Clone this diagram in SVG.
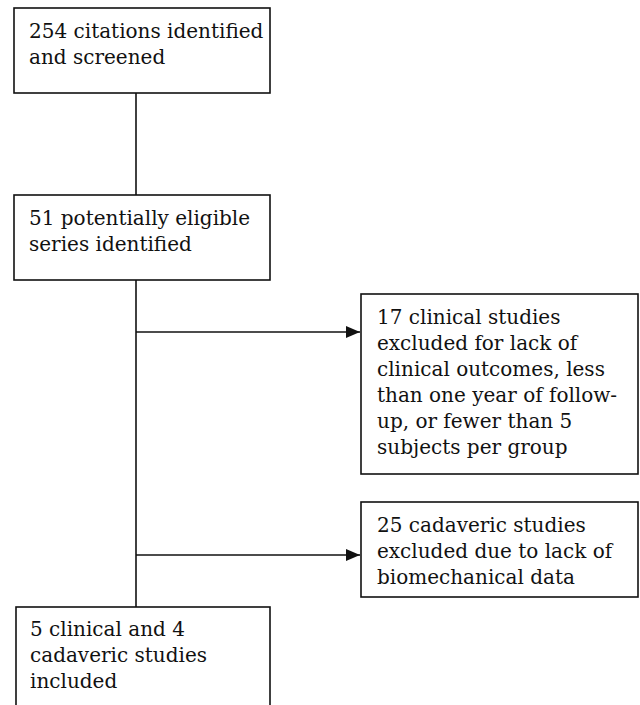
<svg xmlns="http://www.w3.org/2000/svg" width="640" height="705" viewBox="0 0 640 705">
<style>
.box{fill:#fff;stroke:#111;stroke-width:1.6}
.t{font-family:"DejaVu Serif","Liberation Serif",serif;font-size:20px;fill:#111}
.ln{stroke:#111;stroke-width:1.6;fill:none}
</style>
<defs>
<marker id="ah" markerWidth="14" markerHeight="12" refX="14" refY="6" orient="auto" markerUnits="userSpaceOnUse" viewBox="0 0 14 12">
<path d="M0,0 L14,6 L0,12 Z" fill="#111"/>
</marker>
</defs>
<rect width="640" height="705" fill="#fff"/>
<g id="connectors">
<line class="ln" x1="136" y1="93" x2="136" y2="195"/>
<line class="ln" x1="136" y1="280" x2="136" y2="607"/>
<line class="ln" x1="136" y1="332" x2="360" y2="332" marker-end="url(#ah)"/>
<line class="ln" x1="136" y1="555" x2="360" y2="555" marker-end="url(#ah)"/>
</g>
<g id="n1">
<rect class="box" x="14" y="8" width="256" height="85"/>
<text class="t" x="29" y="38">254 citations identified</text>
<text class="t" x="29" y="64">and screened</text>
</g>
<g id="n2">
<rect class="box" x="14" y="195" width="256" height="85"/>
<text class="t" x="29" y="225">51 potentially eligible</text>
<text class="t" x="29" y="251">series identified</text>
</g>
<g id="n3">
<rect class="box" x="361" y="294" width="277" height="180"/>
<text class="t" x="377" y="324">17 clinical studies</text>
<text class="t" x="377" y="350">excluded for lack of</text>
<text class="t" x="377" y="376">clinical outcomes, less</text>
<text class="t" x="377" y="402">than one year of follow-</text>
<text class="t" x="377" y="428">up, or fewer than 5</text>
<text class="t" x="377" y="454">subjects per group</text>
</g>
<g id="n4">
<rect class="box" x="361" y="502" width="277" height="95"/>
<text class="t" x="377" y="532">25 cadaveric studies</text>
<text class="t" x="377" y="558">excluded due to lack of</text>
<text class="t" x="377" y="584">biomechanical data</text>
</g>
<g id="n5">
<rect class="box" x="16" y="607" width="254" height="120"/>
<text class="t" x="30" y="636">5 clinical and 4</text>
<text class="t" x="30" y="662">cadaveric studies</text>
<text class="t" x="30" y="688">included</text>
</g>
</svg>
